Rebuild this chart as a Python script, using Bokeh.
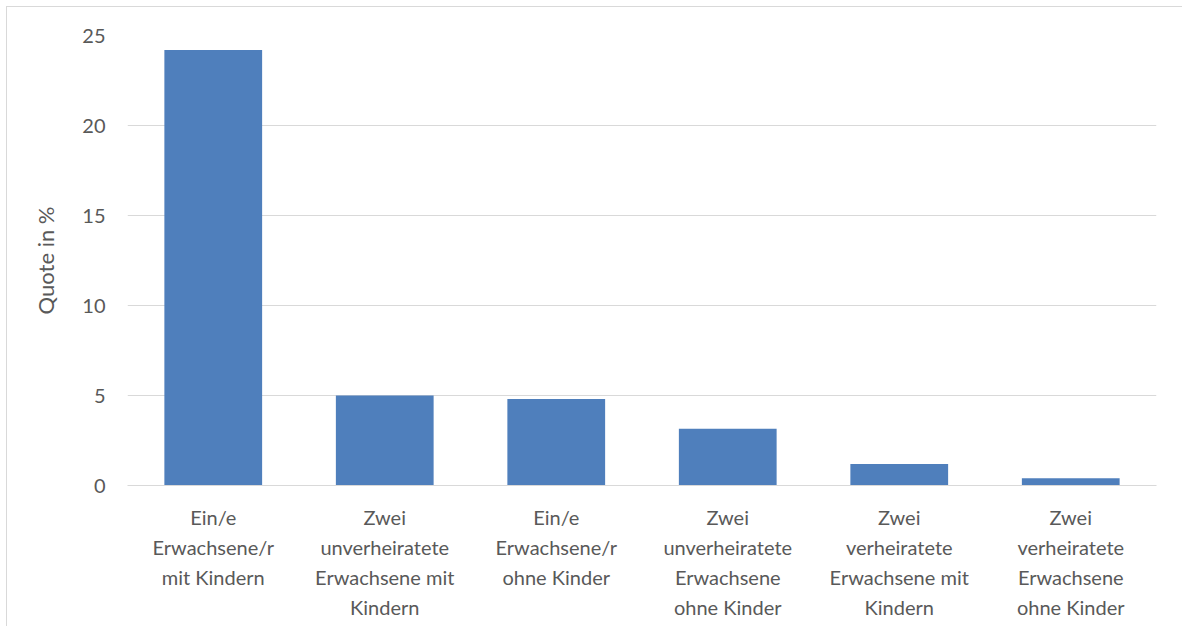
from bokeh.plotting import figure
from bokeh.models import Range1d, FixedTicker
from bokeh.embed import file_html
from bokeh.resources import INLINE

categories = [
    "Ein/e\nErwachsene/r\nmit Kindern",
    "Zwei\nunverheiratete\nErwachsene mit\nKindern",
    "Ein/e\nErwachsene/r\nohne Kinder",
    "Zwei\nunverheiratete\nErwachsene\nohne Kinder",
    "Zwei\nverheiratete\nErwachsene mit\nKindern",
    "Zwei\nverheiratete\nErwachsene\nohne Kinder",
]
values = [24.2, 5.0, 4.8, 3.15, 1.2, 0.4]
y_ticks = [0, 5, 10, 15, 20, 25]

FONT = "Lato"
TXT = "#595959"

p = figure(x_range=categories, y_range=Range1d(0, 25), width=1176, height=620,
           output_backend="svg", toolbar_location=None,
           min_border_left=120, min_border_right=27, min_border_top=28, min_border_bottom=142)
p.x_range.range_padding = 0
p.vbar(x=categories, top=values, width=0.57, fill_color="#4F7FBC", line_color=None)

p.outline_line_color = None
p.xgrid.grid_line_color = None
p.ygrid.grid_line_color = "#D9D9D9"
p.ygrid.grid_line_width = 1
p.yaxis.ticker = FixedTicker(ticks=y_ticks)
for ax in (p.xaxis, p.yaxis):
    ax.axis_line_color = None
    ax.major_tick_line_color = None
    ax.minor_tick_line_color = None
    ax.major_label_text_font = FONT
    ax.major_label_text_font_size = "20px"
    ax.major_label_text_color = TXT
p.xaxis.axis_line_color = "#D9D9D9"
p.xaxis.major_label_text_line_height = 1.25
p.xaxis.major_label_standoff = 13
p.yaxis.major_label_standoff = 16
p.yaxis.axis_label = "Quote in %"
p.yaxis.axis_label_text_font = FONT
p.yaxis.axis_label_text_font_size = "22px"
p.yaxis.axis_label_text_font_style = "normal"
p.yaxis.axis_label_text_color = TXT
p.yaxis.axis_label_standoff = 20
p.styles = {"border-top": "1px solid #D9D9D9", "border-left": "1px solid #D9D9D9",
            "margin-top": "6px", "margin-left": "6px"}

open("out.html", "w").write(file_html(p, INLINE))
